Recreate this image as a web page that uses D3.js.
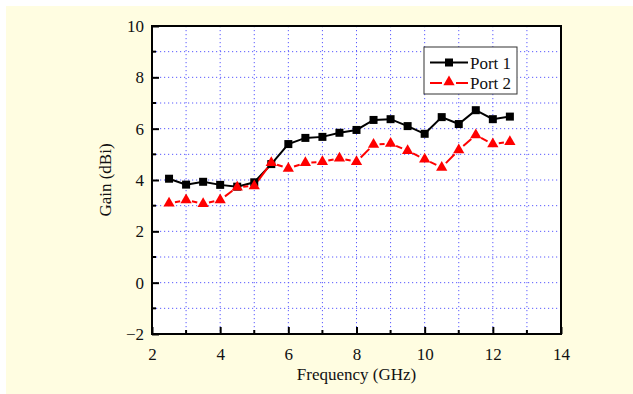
<!DOCTYPE html>
<html>
<head>
<meta charset="utf-8">
<script src="https://cdn.jsdelivr.net/npm/d3@7"></script>
<style>
  html, body { margin: 0; padding: 0; background: #fff; }
  svg text { font-family: "Times New Roman", "Liberation Serif", Tinos, "DejaVu Serif", "Noto Serif", serif !important; fill: #111; }
</style>
</head>
<body>
<div id="chart"></div>
<script>
// ===== DATA =====
const freq = [2.5, 3, 3.5, 4, 4.5, 5, 5.5, 6, 6.5, 7, 7.5, 8, 8.5, 9, 9.5, 10, 10.5, 11, 11.5, 12, 12.5];
const port1 = [4.05, 3.82, 3.93, 3.81, 3.74, 3.91, 4.62, 5.4, 5.64, 5.68, 5.84, 5.95, 6.34, 6.37, 6.1, 5.8, 6.45, 6.18, 6.72, 6.37, 6.47];
const port2 = [3.09, 3.22, 3.07, 3.22, 3.72, 3.77, 4.67, 4.45, 4.67, 4.71, 4.85, 4.71, 5.38, 5.42, 5.14, 4.81, 4.49, 5.17, 5.75, 5.4, 5.49];
const seriesNames = ["Port 1", "Port 2"];
const xTicks = [2, 4, 6, 8, 10, 12, 14];
const yTicks = [-2, 0, 2, 4, 6, 8, 10];

// ===== SIZE =====
const width = 633;
const height = 394;
const margin = { top: 26, right: 72, bottom: 60, left: 152 };
const innerW = width - margin.left - margin.right;
const innerH = height - margin.top - margin.bottom;

const svg = d3.select("#chart")
  .append("svg")
  .attr("width", width)
  .attr("height", height);

// cream panel
svg.append("rect")
  .attr("x", 6).attr("y", 6)
  .attr("width", width - 6).attr("height", height - 6)
  .attr("fill", "#fffde1");

const g = svg.append("g")
  .attr("transform", `translate(${margin.left},${margin.top})`);

const x = d3.scaleLinear().domain([2, 14]).range([0, innerW]);
const y = d3.scaleLinear().domain([-2, 10]).range([innerH, 0]);

g.append("rect")
  .attr("width", innerW).attr("height", innerH)
  .attr("fill", "#fff");

// grid
const gx = d3.range(3, 14);
const gy = d3.range(-1, 10);
g.selectAll(".gridx").data(gx).join("line")
  .attr("x1", d => x(d)).attr("x2", d => x(d))
  .attr("y1", 0).attr("y2", innerH)
  .attr("stroke", "#5a5aff").attr("stroke-width", 1)
  .attr("stroke-dasharray", "1.2,2.8");
g.selectAll(".gridy").data(gy).join("line")
  .attr("y1", d => y(d)).attr("y2", d => y(d))
  .attr("x1", 0).attr("x2", innerW)
  .attr("stroke", "#5a5aff").attr("stroke-width", 1)
  .attr("stroke-dasharray", "1.2,2.8");

// axes (ticks inward)
const xAxis = g.append("g")
  .attr("transform", `translate(0,${innerH})`)
  .call(d3.axisBottom(x).tickValues(xTicks).tickSize(-7).tickPadding(14).tickFormat(d3.format("d")));
const yAxis = g.append("g")
  .call(d3.axisLeft(y).tickValues(yTicks).tickSize(-7).tickPadding(8)
    .tickFormat(d => d < 0 ? "\u2212" + Math.abs(d) : d));

// minor ticks
g.selectAll(".mx").data(d3.range(3, 14, 2)).join("line")
  .attr("x1", d => x(d)).attr("x2", d => x(d))
  .attr("y1", innerH).attr("y2", innerH - 4)
  .attr("stroke", "#000").attr("stroke-width", 2);
g.selectAll(".my").data(d3.range(-1, 10, 2)).join("line")
  .attr("y1", d => y(d)).attr("y2", d => y(d))
  .attr("x1", 0).attr("x2", 4)
  .attr("stroke", "#000").attr("stroke-width", 2);

[xAxis, yAxis].forEach(a => {
  a.attr("font-family", null);
  a.select(".domain").remove();
  a.selectAll(".tick line").attr("stroke", "#000").attr("stroke-width", 2);
  a.selectAll(".tick text")
    .style("font-size", "17px")
    .attr("fill", "#111");
});

// frame
g.append("rect")
  .attr("width", innerW).attr("height", innerH)
  .attr("fill", "none").attr("stroke", "#000").attr("stroke-width", 2);

// ===== SERIES =====
const pts1 = freq.map((f, i) => [x(f), y(port1[i])]);
const pts2 = freq.map((f, i) => [x(f), y(port2[i])]);

g.append("path")
  .attr("d", d3.line()(pts1))
  .attr("fill", "none").attr("stroke", "#000").attr("stroke-width", 2);

// red line: segments with gaps around markers
const gap = 6;
const segs = d3.pairs(pts2).map(([a, b]) => {
  const dx = b[0] - a[0], dy = b[1] - a[1];
  const L = Math.hypot(dx, dy);
  const ux = dx / L, uy = dy / L;
  return [[a[0] + ux * gap, a[1] + uy * gap], [b[0] - ux * gap, b[1] - uy * gap]];
});
g.selectAll(".seg2").data(segs).join("line")
  .attr("x1", d => d[0][0]).attr("y1", d => d[0][1])
  .attr("x2", d => d[1][0]).attr("y2", d => d[1][1])
  .attr("stroke", "#ff0000").attr("stroke-width", 2);

const sq = 8;
g.selectAll(".m1").data(pts1).join("rect")
  .attr("x", d => d[0] - sq / 2).attr("y", d => d[1] - sq / 2)
  .attr("width", sq).attr("height", sq)
  .attr("fill", "#000");

const tri = d3.symbol().type(d3.symbolTriangle).size(55);
g.selectAll(".m2").data(pts2).join("path")
  .attr("transform", d => `translate(${d[0]},${d[1]})`)
  .attr("d", tri)
  .attr("fill", "#ff0000");

// ===== LEGEND =====
const lg = svg.append("g").attr("transform", "translate(424,47)");
lg.append("rect")
  .attr("width", 93).attr("height", 47)
  .attr("fill", "#fff").attr("stroke", "#333").attr("stroke-width", 1);
lg.append("line").attr("x1", 6).attr("x2", 44).attr("y1", 15.5).attr("y2", 15.5)
  .attr("stroke", "#000").attr("stroke-width", 2);
lg.append("rect").attr("x", 25 - sq / 2).attr("y", 15.5 - sq / 2)
  .attr("width", sq).attr("height", sq).attr("fill", "#000");
lg.append("line").attr("x1", 6).attr("x2", 18).attr("y1", 36).attr("y2", 36)
  .attr("stroke", "#ff0000").attr("stroke-width", 2);
lg.append("line").attr("x1", 32).attr("x2", 44).attr("y1", 36).attr("y2", 36)
  .attr("stroke", "#ff0000").attr("stroke-width", 2);
lg.append("path").attr("transform", "translate(25,35)").attr("d", tri).attr("fill", "#ff0000");
lg.selectAll(".lt").data(seriesNames).join("text")
  .attr("x", 46).attr("y", (d, i) => 21.5 + i * 20.5)
  .style("font-size", "17px")
  .text(d => d);

// ===== AXIS TITLES =====
svg.append("text")
  .attr("x", margin.left + innerW / 2).attr("y", 380)
  .attr("text-anchor", "middle")
  .style("font-size", "17px")
  .text("Frequency (GHz)");
svg.append("text")
  .attr("transform", `translate(111,${margin.top + innerH / 2}) rotate(-90)`)
  .attr("text-anchor", "middle")
  .style("font-size", "17px")
  .text("Gain (dBi)");
</script>
</body>
</html>
